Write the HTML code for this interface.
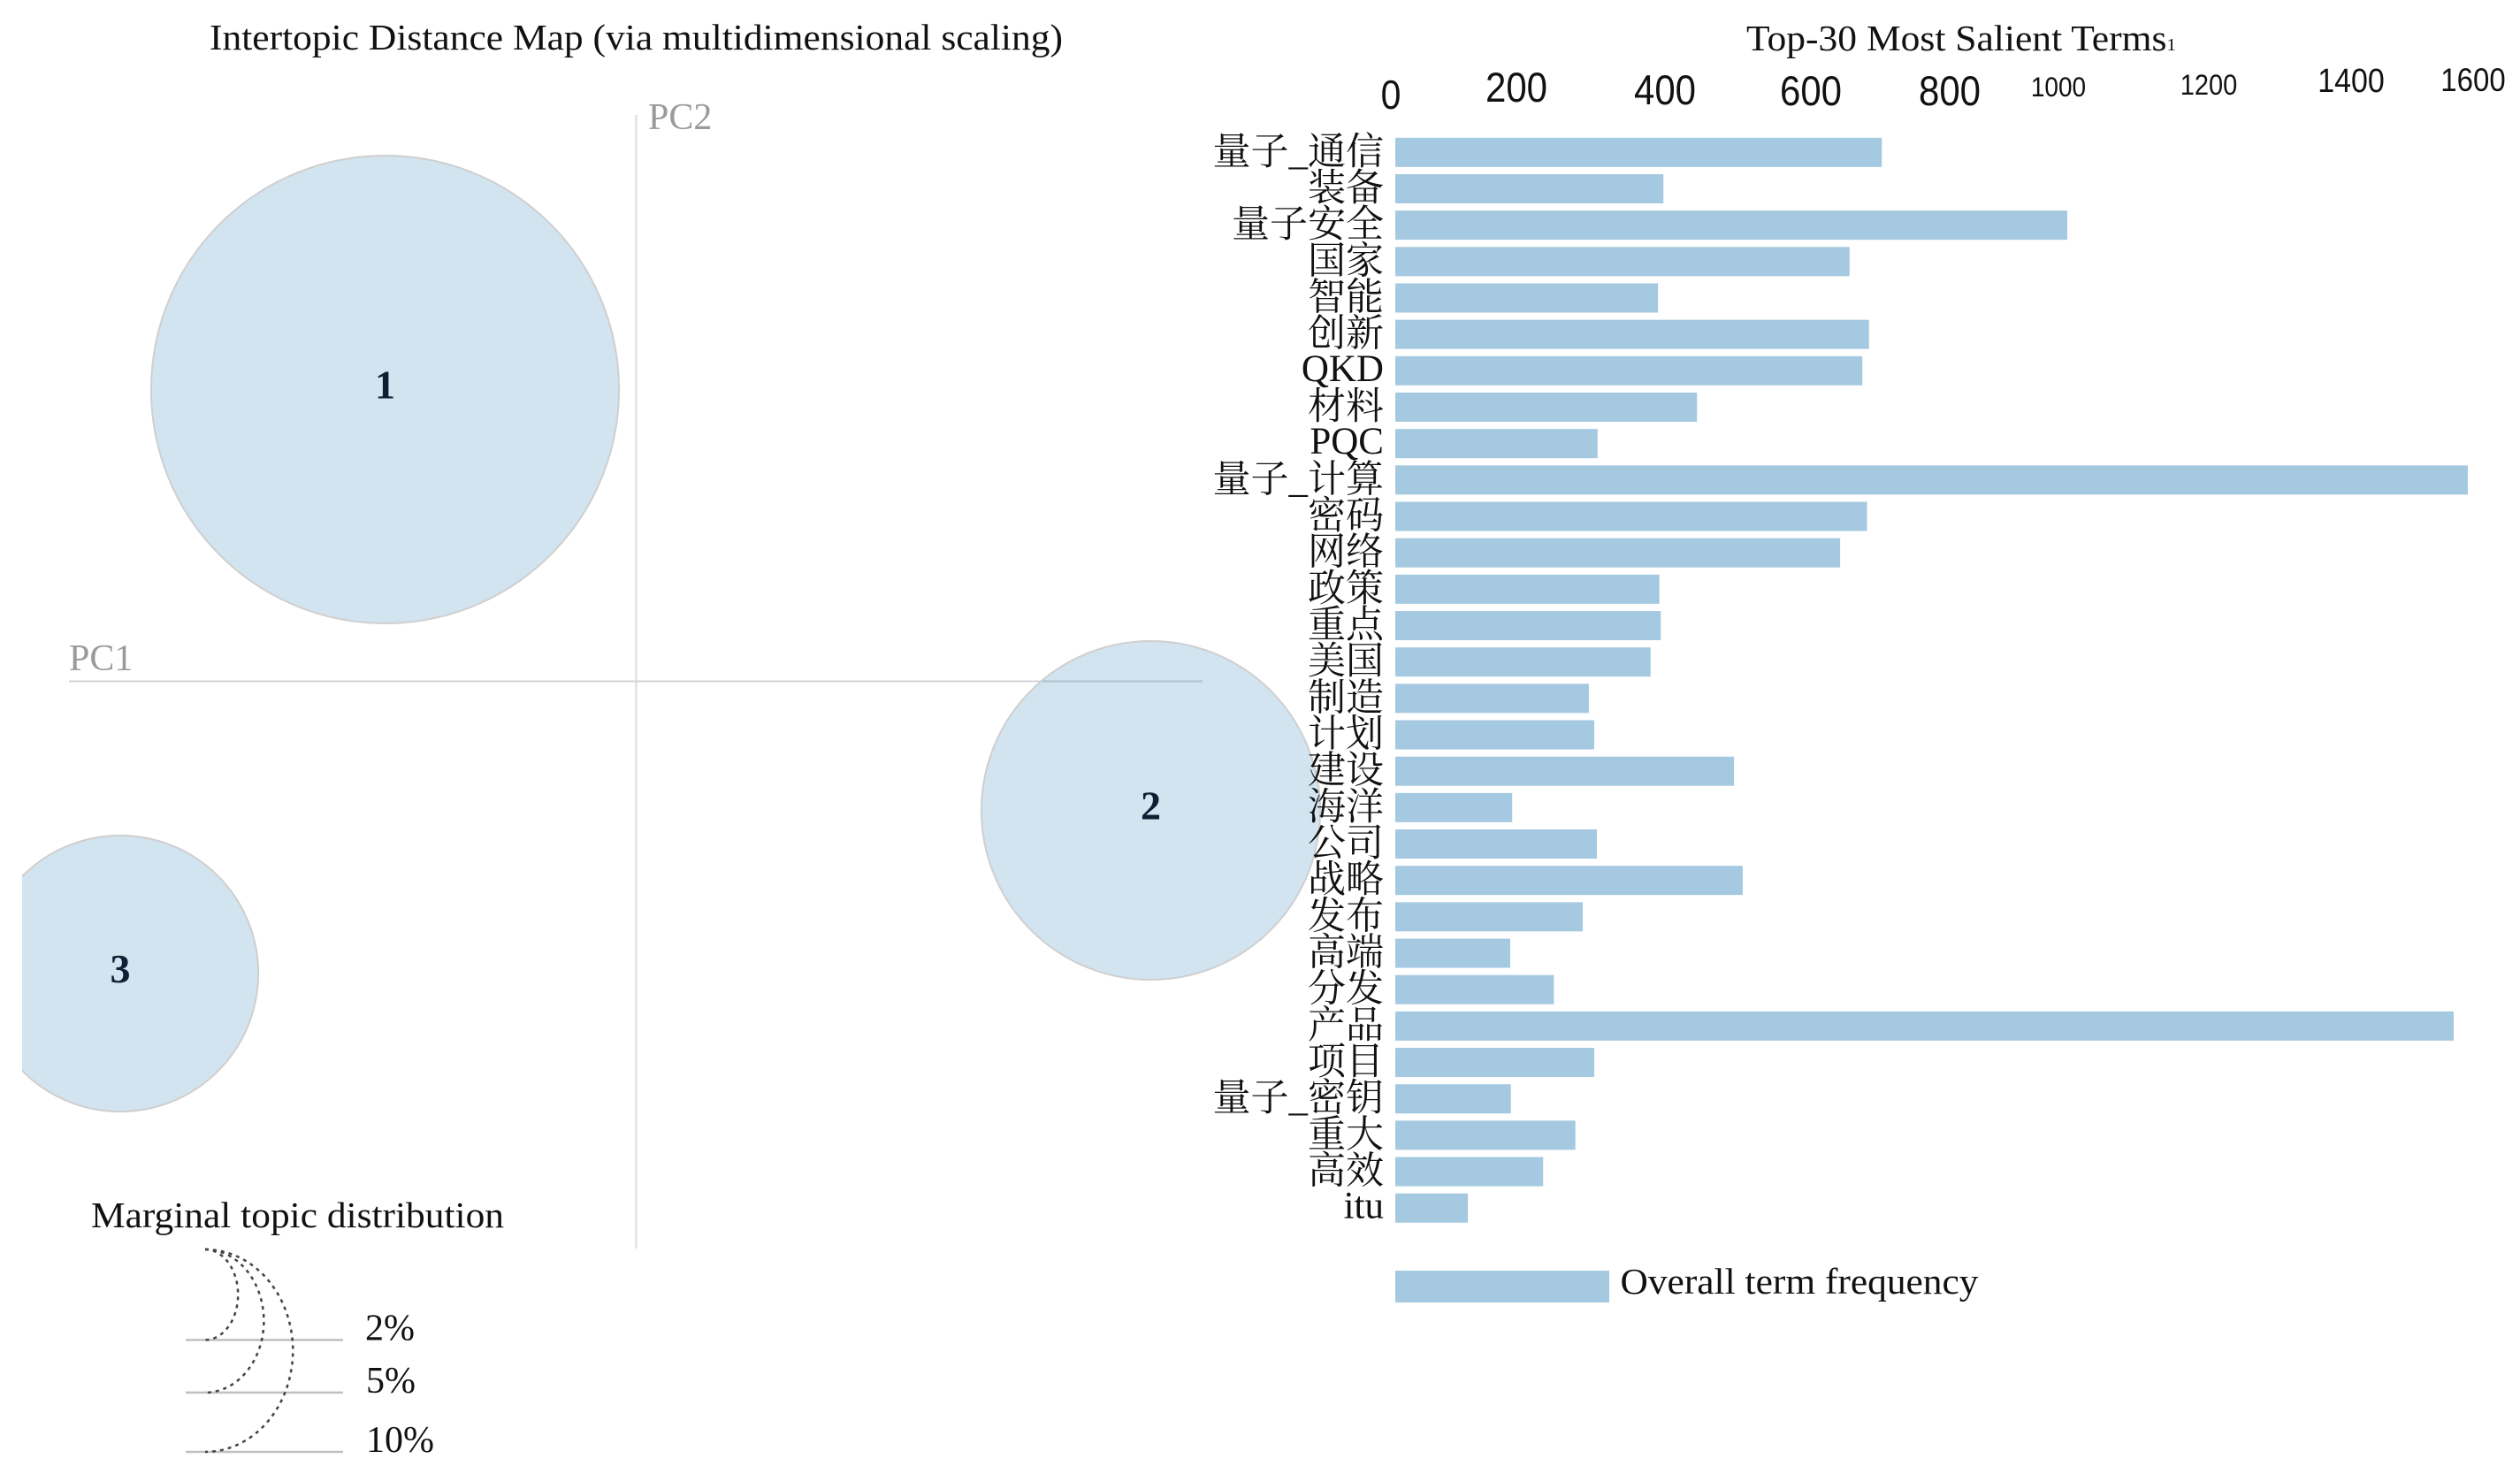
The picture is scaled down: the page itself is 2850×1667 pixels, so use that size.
<!DOCTYPE html>
<html lang="zh">
<head>
<meta charset="utf-8">
<title>Intertopic Distance Map and Top-30 Most Salient Terms</title>
<style>
  html, body { margin: 0; padding: 0; background: #fff; }
  svg { display: block; }
  .serif { font-family: "Liberation Serif", "Noto Serif CJK SC", serif; fill: #111; }
  .sans { font-family: "Liberation Sans", sans-serif; fill: #111; }
  .axis-name { font-family: "Liberation Serif", serif; font-size: 42px; fill: #9a9a9a; }
</style>
</head>
<body>
<svg id="chart" xmlns="http://www.w3.org/2000/svg" width="2850" height="1667" viewBox="0 0 2850 1667">
  <defs>
    <clipPath id="map-clip"><rect x="25" y="0" width="1600" height="1667"></rect></clipPath>
  </defs>
  <rect x="0" y="0" width="2850" height="1667" fill="#fff"></rect>

  <text class="serif" x="237" y="56" font-size="41" textLength="965" lengthAdjust="spacingAndGlyphs">Intertopic Distance Map (via multidimensional scaling)</text>
  <text class="serif" x="1975" y="57" font-size="41" textLength="486" lengthAdjust="spacingAndGlyphs">Top-30 Most Salient Terms<tspan font-size="20">1</tspan></text>

  <line x1="719.5" y1="130" x2="719.5" y2="1412" stroke="#dcdcdc" stroke-width="2"></line>
  <line x1="78" y1="770.5" x2="1360" y2="770.5" stroke="#d4d4d4" stroke-width="2"></line>
  <text class="axis-name" x="733" y="146">PC2</text>
  <text class="axis-name" x="78" y="758">PC1</text>

  <g id="topic-layer" clip-path="url(#map-clip)"></g>
  <g id="term-label-layer"></g>
  <g id="bar-layer"></g>
  <g id="tick-layer"></g>

  <rect x="1578" y="1437" width="242" height="36" fill="#a5c9e1"></rect>
  <text class="serif" x="1832.5" y="1463" font-size="41" textLength="405" lengthAdjust="spacingAndGlyphs">Overall term frequency</text>

  <text class="serif" x="103" y="1388" font-size="41" textLength="467" lengthAdjust="spacingAndGlyphs">Marginal topic distribution</text>
  <g id="size-legend-layer"></g>
</svg>

<script>
// ---- Term bar chart data ----
const terms = ["量子_通信","装备","量子安全","国家","智能","创新","QKD","材料","PQC","量子_计算","密码","网络","政策","重点","美国","制造","计划","建设","海洋","公司","战略","发布","高端","分发","产品","项目","量子_密钥","重大","高效","itu"];
const termFrequency = [724,399,1000,676,391,705,695,449,301,1596,702,662,393,395,380,288,296,504,174,300,517,279,171,236,1575,296,172,268,220,108];
const tickValues = [0,200,400,600,800,1000,1200,1400,1600];

// ---- Topic map data ----
const topicIds = ["1","2","3"];
const topicPc1 = [-0.284, 0.582, -0.5835];
const topicPc2 = [0.330, -0.146, -0.3305];
const topicShare = [53.4, 28.0, 18.6];

// ---- Marginal distribution legend data ----
const legendShares = [2, 5, 10];

// ---- Layout (axis functions and per-tick hand placement of the source figure) ----
const SVG_NS = "http://www.w3.org/2000/svg";
const xFreq = v => 1578 + v * 0.76;
const yTerm = i => 172.8 + i * 41.17;
const xPc = v => 719.5 + v * 1000;
const yPc = v => 770.5 - v * 1000;
const rShare = p => 36.2 * Math.sqrt(p);
const rxLegend = p => 35.5 * Math.sqrt(p) - 13;
const tickNudgeX = [-5,-15,1,14,19,-10,8,17,3];
const tickBaseline = [123,115,118,119,119,109,107,104,103];
const tickFont = [41,42,42,42,42,28,29,34,33];
const legendLabelX = [413,414,414];
const BAR_H = 33;
const LABEL_RIGHT = 1565;
const LEGEND_X = 232;
const LEGEND_TOP = 1413;

function make(tag, attrs, parent, text) {
  const el = document.createElementNS(SVG_NS, tag);
  for (const k in attrs) el.setAttribute(k, attrs[k]);
  if (text !== undefined) el.textContent = text;
  parent.appendChild(el);
  return el;
}

const topicLayer = document.getElementById("topic-layer");
topicIds.forEach((id, i) => {
  const cx = xPc(topicPc1[i]);
  const cy = yPc(topicPc2[i]);
  const c = make("circle", { cx: cx, cy: cy, r: rShare(topicShare[i]), fill: "#1f77b4", "fill-opacity": 0.2, stroke: "#cfcfcf", "stroke-width": 2 }, topicLayer);
  
  
  const t = make("text", { x: cx, y: cy + 10, "text-anchor": "middle", "font-family": '"Liberation Serif", serif', "font-weight": "bold", "font-size": 46, fill: "#0d1f33" }, topicLayer, id);
  
  
});

const barLayer = document.getElementById("bar-layer");
const labelLayer = document.getElementById("term-label-layer");
terms.forEach((term, i) => {
  const isLatin = /^[\x00-\x7f]+$/.test(term);
  const label = make("text", { class: "serif", x: LABEL_RIGHT, y: yTerm(i) + (isLatin ? 11 : 13), "text-anchor": "end", "font-size": 43 }, labelLayer, term);
  
  
  const bar = make("rect", { x: xFreq(0), y: yTerm(i) - BAR_H / 2 - 0.5, width: xFreq(termFrequency[i]) - xFreq(0), height: BAR_H, fill: "#a5c9e1" }, barLayer);
  
  
});

const tickLayer = document.getElementById("tick-layer");
tickValues.forEach((v, i) => {
  const t = make("text", { class: "sans", transform: "translate(" + (xFreq(v) + tickNudgeX[i]) + " " + tickBaseline[i] + ") scale(1 1.12)", "text-anchor": "middle", "font-size": tickFont[i] }, tickLayer, String(v));
  
  
});

const sizeLayer = document.getElementById("size-legend-layer");
legendShares.forEach((p, i) => {
  const ry = rShare(p);
  const bottom = LEGEND_TOP + 2 * ry;
  const line = make("line", { x1: 210, y1: bottom, x2: 388, y2: bottom, stroke: "#c0c0c0", "stroke-width": 2.5 }, sizeLayer);
  
  
  const arc = make("path", { d: "M" + LEGEND_X + " " + LEGEND_TOP + " A" + rxLegend(p) + " " + ry + " 0 0 1 " + LEGEND_X + " " + bottom, fill: "none", stroke: "#444", "stroke-width": 2.5, "stroke-dasharray": "4 5" }, sizeLayer);
  
  
  const t = make("text", { class: "serif", x: legendLabelX[i], y: bottom, "font-size": 42 }, sizeLayer, p + "%");
  
  
});
</script>
</body>
</html>
